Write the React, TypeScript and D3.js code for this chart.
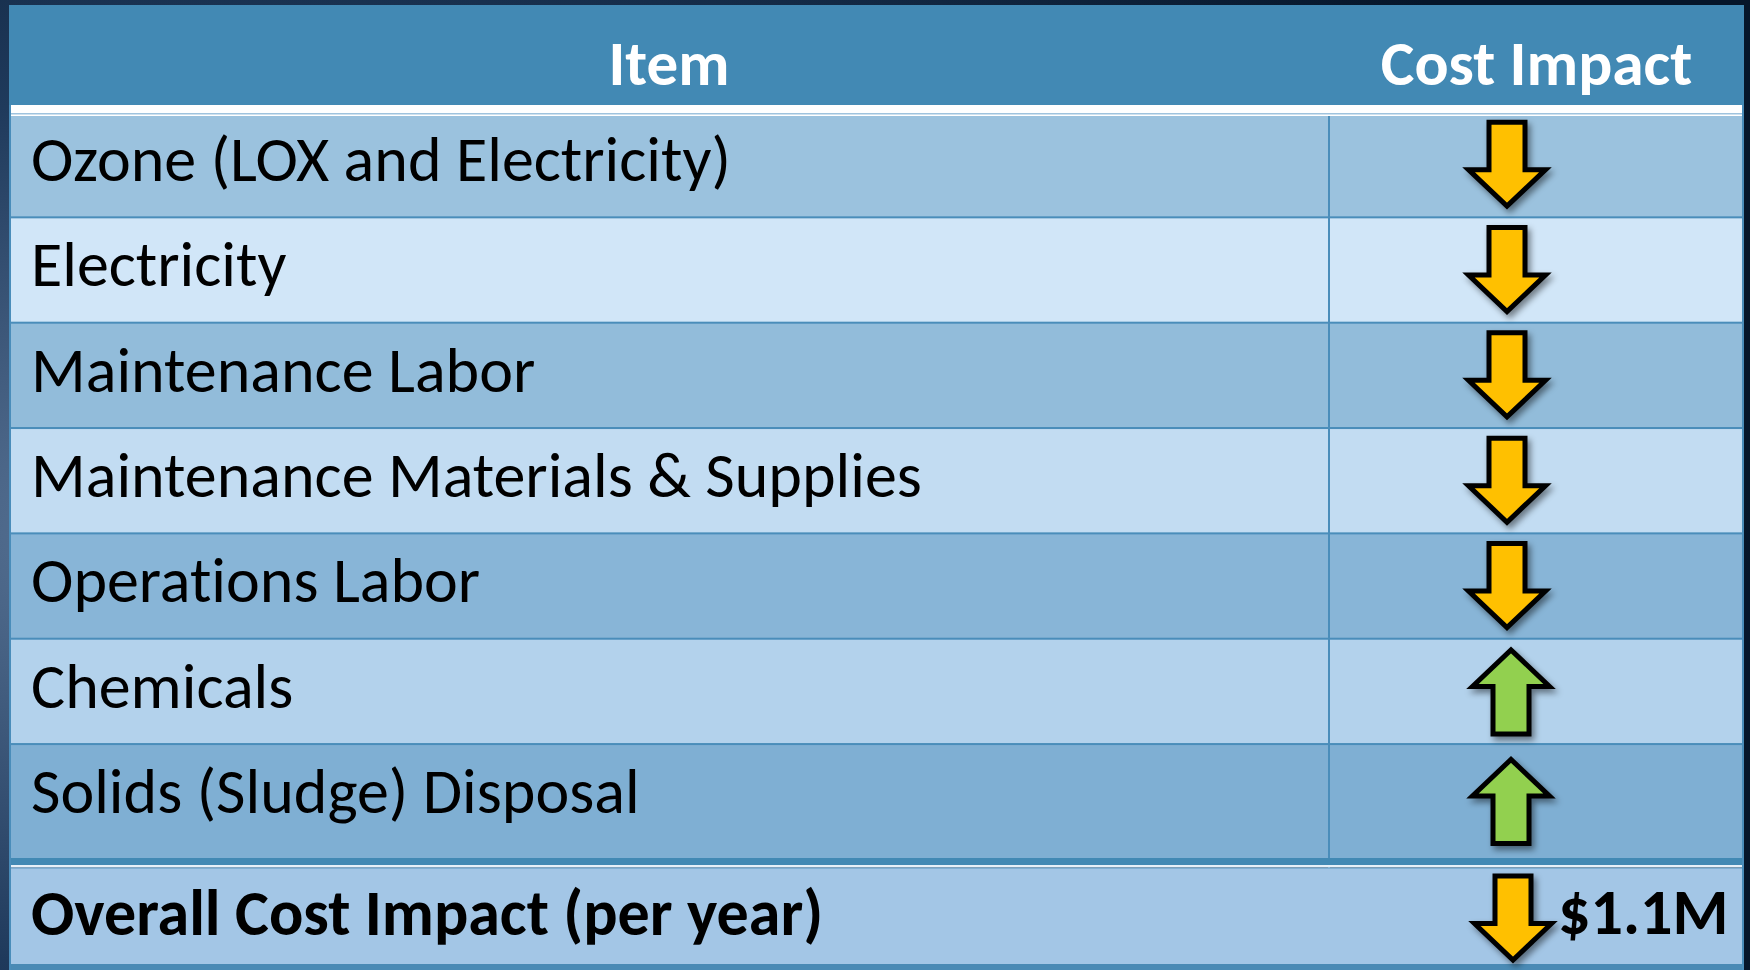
import React from 'react';
import * as d3 from 'd3';

// table contents
const headers = ['Item', 'Cost Impact'];
const items = [
  'Ozone (LOX and Electricity)',
  'Electricity',
  'Maintenance Labor',
  'Maintenance Materials & Supplies',
  'Operations Labor',
  'Chemicals',
  'Solids (Sludge) Disposal',
];
const impacts = ['down', 'down', 'down', 'down', 'down', 'up', 'up'];
const totalLabel = 'Overall Cost Impact (per year)';
const totalImpact = 'down';
const totalValue = '$1.1M';

const W = 1750;
const H = 970;
const left = 9;
const right = 1744;
const split = 1329;
const headTop = 5;
const headBottom = 105;
const bodyTop = 112;
const bodyEnd = 849.4;
const sepTop = 858;
const totalTop = 869;
const totalBottom = 964;
const arrowX = 1507;

const FONT = 'Carlito, Calibri, Lato, sans-serif';
const lineColor = '#4A8DBA';
const textStyle = { fontVariantLigatures: 'none', fontFeatureSettings: '"liga" 0, "clig" 0, "dlig" 0' };

// arrow drawn around (0,0), pointing down; flipped for up
function arrowPath(dir) {
  const shaft = 18;
  const head = 38.5;
  const top = -42.5;
  const wing = 5;
  const tip = 41.5;
  const pts = [
    [-shaft, top], [shaft, top], [shaft, wing], [head, wing],
    [0, tip], [-head, wing], [-shaft, wing],
  ];
  const s = dir === 'up' ? -1 : 1;
  return d3.line()(pts.map(([x, y]) => [x, y * s])) + 'Z';
}

function Arrow({ x, y, dir }) {
  return (
    <path
      transform={`translate(${x},${y})`}
      d={arrowPath(dir)}
      fill={dir === 'up' ? '#92D050' : '#FFC000'}
      stroke="#000"
      strokeWidth={5}
      strokeLinejoin="miter"
      filter="url(#shadow)"
    />
  );
}

export default function App() {
  const y = d3.scaleBand().domain(items).range([bodyTop, bodyEnd]);
  const step = y.bandwidth();
  const darkColor = d3.scaleLinear().domain([0, 6]).range(['#9BC2DE', '#7FAFD3']).interpolate(d3.interpolateRgb);
  const lightColor = d3.scaleLinear().domain([1, 5]).range(['#D1E6F8', '#B3D2EC']).interpolate(d3.interpolateRgb);

  return (
    <div style={{ position: 'fixed', left: 0, top: 0 }}>
      <svg width={W} height={H} style={{ display: 'block' }}>
        <defs>
          <radialGradient id="bg" cx="0.1" cy="0.55" r="0.9">
            <stop offset="0" stopColor="#5B7698" />
            <stop offset="0.5" stopColor="#1F3A5C" />
            <stop offset="1" stopColor="#06162A" />
          </radialGradient>
          <filter id="shadow" x="-50%" y="-50%" width="200%" height="200%">
            <feDropShadow dx="3" dy="4" stdDeviation="3" floodColor="#000" floodOpacity="0.45" />
          </filter>
        </defs>
        <rect width={W} height={H} fill="url(#bg)" />

        {/* header */}
        <rect x={left} y={headTop} width={right - left} height={headBottom - headTop} fill="#4289B4" />
        <text x={(left + split) / 2} y={85} textAnchor="middle" fontFamily={FONT} fontWeight="bold" fontSize={63} fill="#fff" style={textStyle}>
          {headers[0]}
        </text>
        <text x={(split + right) / 2} y={85} textAnchor="middle" fontFamily={FONT} fontWeight="bold" fontSize={63.5} fill="#fff" style={textStyle}>
          {headers[1]}
        </text>

        {/* body rows */}
        {items.map((d, i) => {
          const top = y(d);
          const h = i === items.length - 1 ? sepTop - top : step;
          return (
            <g key={d}>
              <rect x={left} y={top} width={right - left} height={h} fill={i % 2 ? lightColor(i) : darkColor(i)} />
              <text x={31} y={top + 69} fontFamily={FONT} fontSize={64} fill="#000" style={textStyle}>{d}</text>
            </g>
          );
        })}
        {items.slice(1).map((d) => (
          <rect key={'l' + d} x={left} y={y(d) - 1} width={right - left} height={2} fill={lineColor} />
        ))}
        <rect x={split - 1} y={bodyTop} width={2} height={totalTop - bodyTop - 1} fill={lineColor} />
        {items.map((d, i) => {
          const top = y(d);
          const h = i === items.length - 1 ? sepTop - top : step;
          return <Arrow key={'a' + d} x={arrowX + (impacts[i] === 'up' ? 4 : 0)} y={top + h / 2} dir={impacts[i]} />;
        })}

        {/* header separator */}
        <rect x={left} y={headBottom} width={right - left} height={bodyTop - headBottom + 4} fill="#fff" />
        <rect x={left} y={113} width={right - left} height={1.5} fill="#9FC3DE" />

        {/* total row */}
        <rect x={left} y={sepTop} width={right - left} height={7} fill="#4289B4" />
        <rect x={left} y={sepTop + 7} width={right - left} height={2.5} fill="#E6F0F8" />
        <rect x={left} y={totalTop - 1.5} width={right - left} height={1.5} fill="#7FB0D4" />
        <rect x={left} y={totalTop} width={right - left} height={totalBottom - totalTop} fill="#A3C6E6" />
        <rect x={left} y={totalBottom} width={right - left} height={H - totalBottom} fill="#4A8AB5" />
        <text x={31} y={935} fontFamily={FONT} fontWeight="bold" fontSize={64} fill="#000" style={textStyle}>{totalLabel}</text>
        <Arrow x={arrowX + 6} y={(totalTop + totalBottom) / 2 + 2} dir={totalImpact} />
        <text x={1558} y={934} fontFamily={FONT} fontWeight="bold" fontSize={64} fill="#000" style={textStyle}>{totalValue}</text>

        {/* side borders */}
        <rect x={left} y={headBottom} width={2} height={H - headBottom} fill={lineColor} />
        <rect x={right - 2} y={headBottom} width={2} height={H - headBottom} fill={lineColor} />
      </svg>
    </div>
  );
}
